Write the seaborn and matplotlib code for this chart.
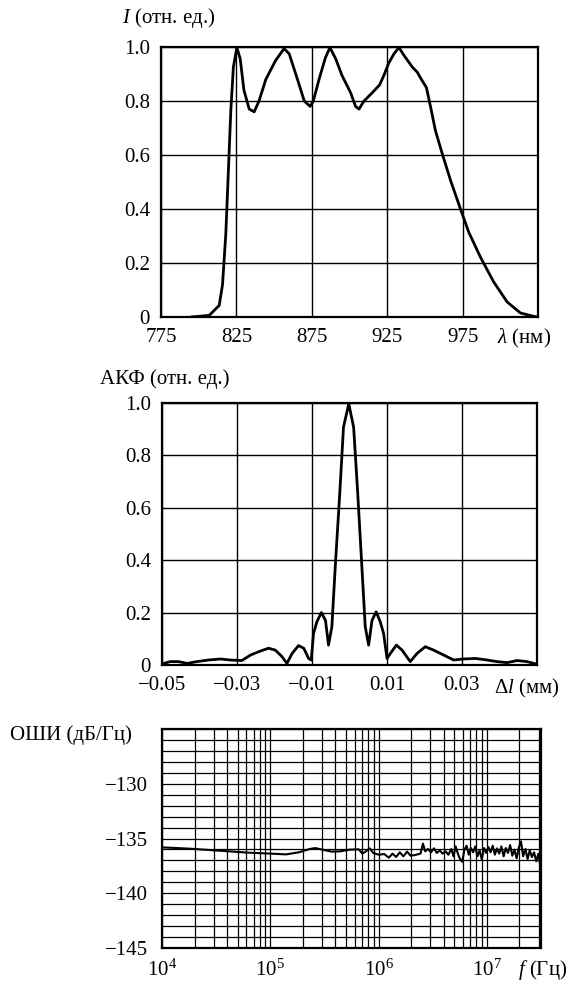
"""Spectrum, autocorrelation and noise plots (three stacked panels)."""

import matplotlib

matplotlib.use("Agg")
import matplotlib.pyplot as plt
import numpy as np
import seaborn as sns
from matplotlib.ticker import FixedLocator, LogLocator, MultipleLocator, NullFormatter, LogFormatterMathtext

# --- panel 1: spectrum I(lambda) ---
wavelength = [795, 807, 813.6, 815.8, 818, 819.6, 821.3, 823, 825.3, 827.5, 830, 833.5,
              836.8, 840, 844.5, 851, 856.6, 860, 865.5, 870, 873.9, 876, 879.8, 884,
              887, 890.8, 895, 900.8, 904, 906.3, 909.6, 915, 920, 922.8, 926, 929.5,
              932.8, 936, 941.6, 944.9, 948, 951, 953.7, 957, 961.5, 967, 973.6, 979,
              986.8, 995.6, 1004.5, 1013.3, 1022, 1025]
intensity = [0.0, 0.006, 0.043, 0.12, 0.31, 0.53, 0.765, 0.926, 0.998, 0.957, 0.84, 0.77,
             0.76, 0.80, 0.88, 0.95, 0.994, 0.975, 0.88, 0.80, 0.78, 0.80, 0.88, 0.96,
             0.998, 0.957, 0.895, 0.83, 0.78, 0.77, 0.80, 0.83, 0.86, 0.895, 0.94, 0.975,
             0.998, 0.97, 0.926, 0.907, 0.877, 0.85, 0.78, 0.69, 0.605, 0.506, 0.40, 0.315,
             0.222, 0.13, 0.056, 0.015, 0.0025, 0.0]
wl_ticks = [775, 825, 875, 925, 975]
i_ticks = [0, 0.2, 0.4, 0.6, 0.8, 1.0]

# --- panel 2: autocorrelation function ---
delay = [-0.05, -0.0478, -0.0456, -0.0433, -0.0407, -0.0376, -0.0344, -0.0318, -0.0287,
         -0.0264, -0.0238, -0.0216, -0.0198, -0.018, -0.0167, -0.0153, -0.0136, -0.0122,
         -0.0109, -0.0102, -0.0096, -0.0087, -0.0075, -0.0064, -0.0056, -0.0047, -0.0038,
         -0.0026, -0.0016, -0.0002, 0.0011, 0.0022, 0.0033, 0.0042, 0.0051, 0.006, 0.0071,
         0.0082, 0.0091, 0.01, 0.0109, 0.0125, 0.014, 0.0162, 0.018, 0.0202, 0.0224,
         0.0251, 0.0278, 0.0304, 0.0336, 0.0367, 0.0393, 0.042, 0.0447, 0.0473, 0.05]
acf = [0.004, 0.013, 0.013, 0.006, 0.013, 0.019, 0.023, 0.019, 0.017,
       0.038, 0.053, 0.064, 0.057, 0.032, 0.006, 0.044, 0.074, 0.064,
       0.025, 0.019, 0.12, 0.165, 0.2, 0.17, 0.076, 0.146, 0.375,
       0.654, 0.908, 0.997, 0.908, 0.654, 0.375, 0.146, 0.076, 0.17, 0.203,
       0.165, 0.12, 0.025, 0.044, 0.076, 0.057, 0.013, 0.044, 0.07, 0.057,
       0.038, 0.019, 0.023, 0.025, 0.019, 0.013, 0.009, 0.017, 0.013, 0.003]
delay_ticks = [-0.05, -0.03, -0.01, 0.01, 0.03]
acf_ticks = [0, 0.2, 0.4, 0.6, 0.8, 1.0]

# --- panel 3: relative intensity noise vs frequency (log10 f) ---
log_freq = [4.0, 4.258, 4.526, 4.794, 4.996, 5.146, 5.264, 5.364, 5.415, 5.482, 5.566,
            5.649, 5.733, 5.817, 5.85, 5.884, 5.918, 5.951, 6.001, 6.052, 6.095, 6.129,
            6.162, 6.196, 6.229, 6.263, 6.296, 6.337, 6.387, 6.41, 6.43, 6.457, 6.484,
            6.511, 6.538, 6.565, 6.591, 6.618, 6.645, 6.672, 6.692, 6.712, 6.732, 6.752,
            6.772, 6.793, 6.813, 6.833, 6.853, 6.873, 6.893, 6.913, 6.933, 6.953, 6.974,
            6.994, 7.014, 7.034, 7.054, 7.074, 7.094, 7.114, 7.134, 7.155, 7.175, 7.195,
            7.215, 7.235, 7.255, 7.275, 7.295, 7.315, 7.335, 7.356, 7.376, 7.396, 7.416,
            7.436, 7.456, 7.476, 7.49, 7.5]
rin = [-135.81, -135.93, -136.11, -136.29, -136.38, -136.45, -136.26, -135.96, -135.87,
       -136.02, -136.2, -136.17, -136.02, -135.99, -136.38, -136.17, -135.9, -136.32,
       -136.48, -136.42, -136.75, -136.38, -136.69, -136.26, -136.63, -136.2, -136.57,
       -136.51, -136.38, -135.47, -136.17, -135.96, -136.26, -135.9, -136.32, -136.08,
       -136.38, -136.17, -136.48, -135.96, -136.63, -135.72, -136.38, -136.87, -137.12,
       -136.02, -135.66, -136.48, -135.87, -136.26, -135.72, -136.63, -136.08, -136.93,
       -135.87, -136.32, -135.78, -136.26, -135.66, -136.48, -135.9, -136.38, -135.72,
       -136.63, -135.87, -136.32, -135.6, -136.57, -136.02, -136.81, -135.84, -135.26,
       -136.63, -135.96, -136.87, -136.08, -136.69, -136.26, -137.08, -136.38, -137.3,
       -136.63]
freq_ticks = [1e4, 1e5, 1e6, 1e7]
rin_ticks = [-130, -135, -140, -145]

sns.set_theme(style="white")
plt.rcParams["font.family"] = ["Liberation Serif", "DejaVu Serif"]
plt.rcParams["mathtext.fontset"] = "custom"
plt.rcParams["mathtext.rm"] = "Liberation Serif"
plt.rcParams["mathtext.it"] = "Liberation Serif:italic"
plt.rcParams["font.size"] = 15
plt.rcParams["text.color"] = "black"
plt.rcParams["axes.unicode_minus"] = True

FS = 15
W, H = 571, 985
fig = plt.figure(figsize=(W / 100, H / 100), dpi=100)


def frame(x0, y0, x1, y1):
    # pixel box (left, top, right, bottom) -> axes
    return fig.add_axes([x0 / W, 1 - y1 / H, (x1 - x0) / W, (y1 - y0) / H])


def style(ax):
    for s in ax.spines.values():
        s.set_color("black")
        s.set_linewidth(1.6)
    ax.tick_params(colors="black", labelsize=FS, length=0, pad=8)


# 1) spectrum
ax1 = frame(161, 47, 538, 317)
sns.lineplot(x=wavelength, y=intensity, ax=ax1, color="black", lw=2.0, sort=False, estimator=None)
ax1.set_xlim(775, 1025)
ax1.set_ylim(0, 1.0)
ax1.set_xticks(wl_ticks)
ax1.set_yticks(i_ticks)
ax1.set_yticklabels(["0" if v == 0 else f"{v:.1f}" for v in i_ticks])
ax1.grid(True, color="black", lw=1.0)
style(ax1)
fig.text(122 / W, 1 - 18 / H, "$I$ (отн. ед.)", fontsize=FS, va="center", ha="left", color="black")
fig.text(497 / W, 1 - 338 / H, r"$\lambda$ (нм)", fontsize=FS, va="center", ha="left", color="black")

# 2) autocorrelation
ax2 = frame(162, 403, 537, 665)
sns.lineplot(x=delay, y=acf, ax=ax2, color="black", lw=2.0, sort=False, estimator=None)
ax2.set_xlim(-0.05, 0.05)
ax2.set_ylim(0, 1.0)
ax2.set_xticks(delay_ticks)
ax2.set_xticklabels([f"{v:.2f}".replace("-", "\u2212") for v in delay_ticks])
ax2.set_yticks(acf_ticks)
ax2.set_yticklabels(["0" if v == 0 else f"{v:.1f}" for v in acf_ticks])
ax2.grid(True, color="black", lw=1.0)
style(ax2)
fig.text(100 / W, 1 - 379 / H, "АКФ (отн. ед.)", fontsize=FS, va="center", ha="left", color="black")
fig.text(494 / W, 1 - 688 / H, r"$\Delta l$ (мм)", fontsize=FS, va="center", ha="left", color="black")

# 3) noise
ax3 = frame(162, 729, 541, 948)
freq = [10 ** v for v in log_freq]
sns.lineplot(x=freq, y=rin, ax=ax3, color="black", lw=1.5, sort=False, estimator=None)
ax3.set_xscale("log")
ax3.set_xlim(1e4, 10 ** 7.5)
ax3.set_ylim(-145, -125)
ax3.xaxis.set_major_locator(FixedLocator(freq_ticks))
ax3.xaxis.set_major_formatter(LogFormatterMathtext())
ax3.xaxis.set_minor_locator(LogLocator(base=10, subs=np.arange(2, 10)))
ax3.xaxis.set_minor_formatter(NullFormatter())
ax3.set_yticks(rin_ticks)
ax3.yaxis.set_minor_locator(MultipleLocator(1))
ax3.grid(True, which="both", color="black", lw=0.9)
style(ax3)
ax3.tick_params(axis="y", which="major", direction="in", length=6, width=2, pad=10)
ax3.tick_params(which="minor", length=0)
fig.text(10 / W, 1 - 735 / H, "ОШИ (дБ/Гц)", fontsize=FS, va="center", ha="left", color="black")
fig.text(567 / W, 1 - 970 / H, "$f$ (Гц)", fontsize=FS, va="center", ha="right", color="black")

fig.savefig("out.png", dpi=100)
plt.close(fig)
